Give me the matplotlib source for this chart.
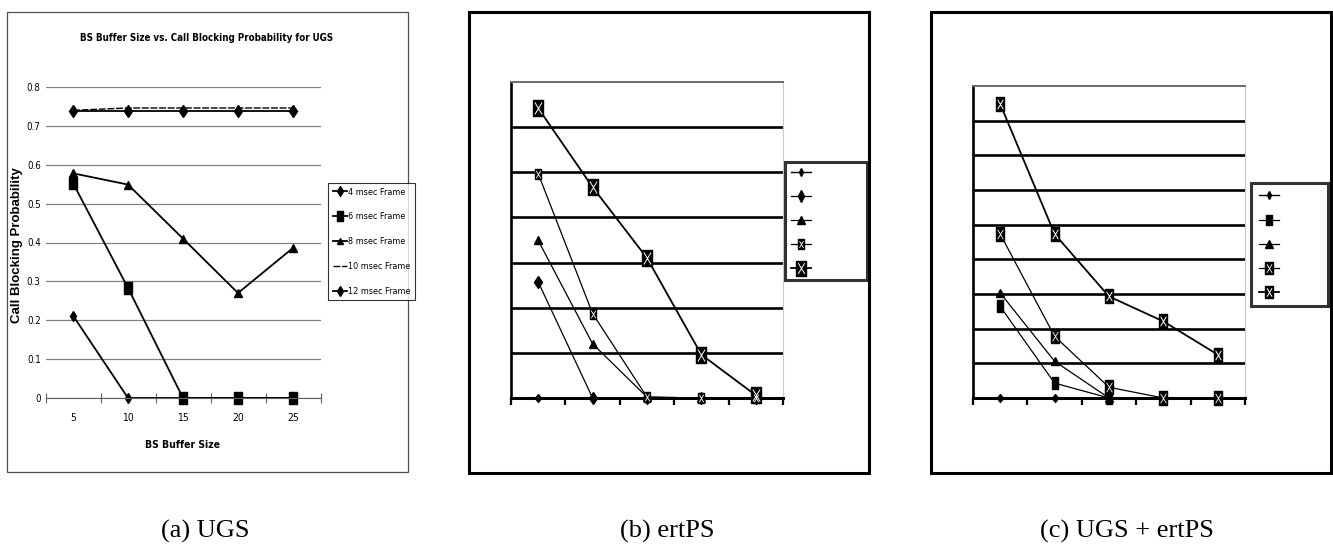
import matplotlib
matplotlib.use('Agg')
import matplotlib.pyplot as plt
from matplotlib.patches import Rectangle
from matplotlib.path import Path
from matplotlib.legend_handler import HandlerTuple
from matplotlib import font_manager as fm
import numpy as np

W, H = 1333, 548

# ---------------- data ----------------
buffer_sizes = ['5', '10', '15', '20', '25']
ugs_labels = ['4 msec Frame', '6 msec Frame', '8 msec Frame', '10 msec Frame', '12 msec Frame']
ugs_4 = [0.212, 0.0, 0.0, 0.0, 0.0]
ugs_6 = [0.553, 0.283, 0.0, 0.0, 0.0]
ugs_8 = [0.578, 0.549, 0.410, 0.270, 0.386]
ugs_10 = [0.740, 0.746, 0.746, 0.746, 0.746]
ugs_12 = [0.739, 0.739, 0.739, 0.739, 0.739]
ugs_yticks = [0, 0.1, 0.2, 0.3, 0.4, 0.5, 0.6, 0.7, 0.8]
ugs_yticklabels = ['0', '0.1', '0.2', '0.3', '0.4', '0.5', '0.6', '0.7', '0.8']

ertps_1 = [0.0, 0.0, 0.0, 0.0, 0.0]
ertps_2 = [0.257, 0.0, 0.0, 0.0, 0.0]
ertps_3 = [0.349, 0.120, 0.002, 0.0, 0.0]
ertps_4 = [0.497, 0.187, 0.002, 0.0, 0.0]
ertps_5 = [0.642, 0.467, 0.310, 0.096, 0.006]

mix_1 = [0.0, 0.0, 0.0, 0.0, 0.0]
mix_2 = [0.264, 0.043, 0.0, 0.0, 0.0]
mix_3 = [0.303, 0.106, 0.0, 0.0, 0.0]
mix_4 = [0.473, 0.178, 0.031, 0.0, 0.0]
mix_5 = [0.848, 0.473, 0.293, 0.221, 0.125]

captions = ['(a) UGS', '(b) ertPS', '(c) UGS + ertPS']
title_a = 'BS Buffer Size vs. Call Blocking Probability for UGS'
xlabel_a = 'BS Buffer Size'
ylabel_a = 'Call Blocking Probability'

# ---------------- fonts ----------------
_fonts = fm.fontManager.ttflist
_names = {f.name for f in _fonts}
if 'Liberation Sans Narrow' in _names:
    NARROW = dict(family='Liberation Sans Narrow')
elif any(f.name == 'DejaVu Sans' and str(f.stretch) == 'condensed' for f in _fonts):
    NARROW = dict(family='DejaVu Sans', stretch='condensed')
else:
    NARROW = dict(family='Liberation Sans')
SANS = ['Liberation Sans', 'DejaVu Sans']
SERIF = ['Liberation Serif', 'DejaVu Serif']

fig = plt.figure(figsize=(W / 100, H / 100), dpi=100)


def px_axes(x0, y0, x1, y1):
    return fig.add_axes([x0 / W, 1 - y1 / H, (x1 - x0) / W, (y1 - y0) / H])


def frame(x0, y0, x1, y1, lw, color):
    fig.add_artist(Rectangle((x0 / W, 1 - y1 / H), (x1 - x0) / W, (y1 - y0) / H,
                             transform=fig.transFigure, fill=False, lw=lw,
                             ec=color, zorder=0))


# custom markers
rect_tall = Path([(-0.31, -0.5), (0.31, -0.5), (0.31, 0.5), (-0.31, 0.5), (-0.31, -0.5)],
                 [Path.MOVETO, Path.LINETO, Path.LINETO, Path.LINETO, Path.CLOSEPOLY])
rect_mid = Path([(-0.37, -0.5), (0.37, -0.5), (0.37, 0.5), (-0.37, 0.5), (-0.37, -0.5)],
                [Path.MOVETO, Path.LINETO, Path.LINETO, Path.LINETO, Path.CLOSEPOLY])
rect_thin = Path([(-0.25, -0.5), (0.25, -0.5), (0.25, 0.5), (-0.25, 0.5), (-0.25, -0.5)],
                 [Path.MOVETO, Path.LINETO, Path.LINETO, Path.LINETO, Path.CLOSEPOLY])
x_glyph = Path([(-0.3, -0.5), (0.3, 0.5), (-0.3, 0.5), (0.3, -0.5)],
               [Path.MOVETO, Path.LINETO, Path.MOVETO, Path.LINETO])

xpos = np.arange(len(buffer_sizes))
bounds = np.arange(-0.5, len(buffer_sizes), 1.0)

# ================= panel (a) =================
frame(7, 12, 408, 472, 0.9, '#505050')
axA = px_axes(45.5, 87, 320.5, 398)
axA.set_xlim(-0.5, len(buffer_sizes) - 0.5)
axA.set_ylim(0, 0.8)
axA.set_yticks(ugs_yticks)
axA.set_yticklabels(ugs_yticklabels, fontsize=7, **NARROW)
axA.yaxis.grid(True, color='#808080', lw=0.9)
axA.set_axisbelow(True)
axA.tick_params(axis='y', length=0, pad=3.5)
axA.set_xticks(xpos)
axA.set_xticklabels(buffer_sizes, fontsize=7.5, **NARROW)
axA.set_xticks(bounds, minor=True)
axA.tick_params(axis='x', which='major', length=0, pad=11)
axA.tick_params(axis='x', which='minor', length=7, direction='inout', width=0.8, color='#606060')
for s in ['left', 'top', 'right']:
    axA.spines[s].set_visible(False)
axA.spines['bottom'].set_color('#606060')

la1, = axA.plot(xpos, ugs_4, color='k', lw=1.3, marker='d', ms=5.5, clip_on=False, label=ugs_labels[0])
la2, = axA.plot(xpos, ugs_6, color='k', lw=1.3, marker=rect_mid, ms=8, clip_on=False, label=ugs_labels[1])
la3, = axA.plot(xpos, ugs_8, color='k', lw=1.3, marker='^', ms=5.5, clip_on=False, label=ugs_labels[2])
la4, = axA.plot(xpos, ugs_10, color='k', lw=1.0, ls=(0, (5, 1.2)), clip_on=False, label=ugs_labels[3])
la5, = axA.plot(xpos, ugs_12, color='k', lw=1.3, marker='d', ms=6.5, clip_on=False, label=ugs_labels[4])

legA = axA.legend(handles=[la1, la2, la3, la4, la5], loc='upper left',
                  bbox_to_anchor=(328 / W, 1 - 183 / H), bbox_transform=fig.transFigure,
                  prop=dict(size=6.5, **NARROW), frameon=True, fancybox=False,
                  borderaxespad=0, borderpad=0.5, labelspacing=1.75, handlelength=1.6,
                  handletextpad=0.1, numpoints=1, markerscale=0.85)
legA.get_frame().set_edgecolor('k')
legA.get_frame().set_linewidth(0.8)

fig.text(207 / W, 1 - 38 / H, title_a, ha='center', va='center', fontsize=7,
         weight='bold', **NARROW)
fig.text(17 / W, 1 - 245 / H, ylabel_a, ha='center', va='center', rotation=90,
         fontsize=9.5, weight='bold', family=SANS)
fig.text(183 / W, 1 - 445 / H, xlabel_a, ha='center', va='center', fontsize=7.5,
         weight='bold', **NARROW)


def style_box_axes(ax, ymax, grid_ticks):
    ax.set_xlim(-0.5, len(buffer_sizes) - 0.5)
    ax.set_ylim(0, ymax)
    ax.set_yticks(grid_ticks)
    ax.set_yticklabels([])
    ax.yaxis.grid(True, color='k', lw=1.9)
    ax.set_axisbelow(True)
    ax.tick_params(axis='y', length=0)
    ax.set_xticks(xpos)
    ax.set_xticklabels([])
    ax.set_xticks(bounds, minor=True)
    ax.tick_params(axis='x', which='major', length=0)
    ax.tick_params(axis='x', which='minor', length=5, direction='out', width=1.6)
    ax.spines['left'].set_linewidth(1.9)
    ax.spines['bottom'].set_linewidth(2.2)
    ax.spines['top'].set_color('#6a6a6a')
    ax.spines['top'].set_linewidth(1.4)
    ax.spines['right'].set_color('#c8c8d8')
    ax.spines['right'].set_linewidth(0.8)


def plot_five(ax, s1, s2, s3, s4, s5, sq_marker, sq_ms, small_ms, big_ms):
    h1, = ax.plot(xpos, s1, color='k', lw=1.0, marker='d', ms=4.5, clip_on=False, zorder=3)
    h2, = ax.plot(xpos, s2, color='k', lw=0.9, marker=sq_marker, ms=sq_ms, clip_on=False, zorder=3)
    h3, = ax.plot(xpos, s3, color='k', lw=0.9, marker='^', ms=6, clip_on=False, zorder=3)
    h4, = ax.plot(xpos, s4, color='k', lw=0.9, marker=rect_tall, ms=small_ms, clip_on=False, zorder=3)
    h4x, = ax.plot(xpos, s4, ls='none', marker=x_glyph, ms=small_ms * 0.72, mec='white',
                   mfc='none', mew=0.6, clip_on=False, zorder=4)
    h5, = ax.plot(xpos, s5, color='k', lw=1.3, marker=rect_tall, ms=big_ms, clip_on=False, zorder=3)
    h5x, = ax.plot(xpos, s5, ls='none', marker=x_glyph, ms=big_ms * 0.72, mec='white',
                   mfc='none', mew=0.7, clip_on=False, zorder=4)
    return [h1, h2, h3, (h4, h4x), (h5, h5x)]


def box_legend(ax, handles, x0, y0, x1, y1, spacing, pad):
    leg = ax.legend(handles=handles, labels=[' '] * 5, loc='upper left',
                    bbox_to_anchor=(x0 / W, 1 - y1 / H, (x1 - x0) / W, (y1 - y0) / H),
                    bbox_transform=fig.transFigure, mode='expand',
                    handler_map={tuple: HandlerTuple(ndivide=1)},
                    prop={'family': SANS, 'size': 8}, frameon=True, fancybox=False,
                    borderaxespad=0, borderpad=pad, labelspacing=spacing,
                    handlelength=1.75, handletextpad=0.2, numpoints=1, markerscale=0.9)
    leg.get_frame().set_edgecolor('k')
    leg.get_frame().set_linewidth(2.2)
    return leg


# ================= panel (b) =================
frame(469, 12, 869, 473, 2.2, 'k')
axB = px_axes(511, 82, 783, 398)
style_box_axes(axB, 0.7, [0.1, 0.2, 0.3, 0.4, 0.5, 0.6])
hb = plot_five(axB, ertps_1, ertps_2, ertps_3, ertps_4, ertps_5, 'd', 6.5, 7.5, 12)
box_legend(axB, hb, 785, 162, 867, 278, 1.25, 0.55)

# ================= panel (c) =================
frame(931, 12, 1331, 473, 2.2, 'k')
axC = px_axes(973, 86, 1245, 398)
style_box_axes(axC, 0.9, [0.1, 0.2, 0.3, 0.4, 0.5, 0.6, 0.7, 0.8])
hc = plot_five(axC, mix_1, mix_2, mix_3, mix_4, mix_5, rect_thin, 8.5, 9.5, 9.5)
box_legend(axC, hc, 1251, 183, 1328, 303, 1.27, 0.75)

# ================= captions =================
for cx, txt in zip([205, 667, 1127], captions):
    fig.text(cx / W, 1 - 531 / H, txt, ha='center', va='center', fontsize=19, family=SERIF)

fig.savefig('out.png', dpi=100)
